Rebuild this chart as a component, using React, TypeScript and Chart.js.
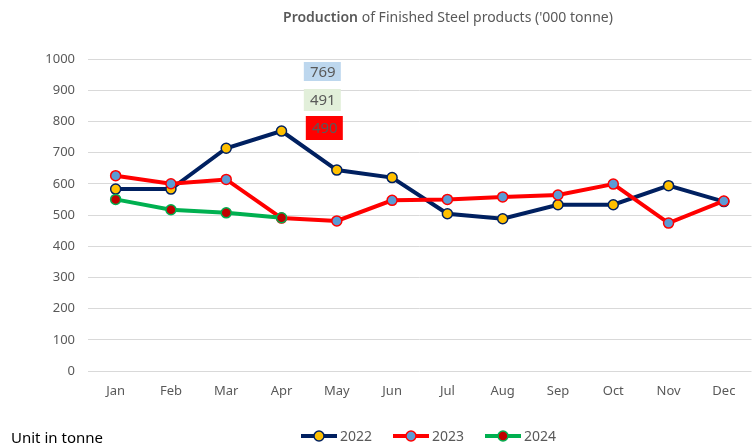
import React, { useEffect, useRef } from "react";
import { Chart, registerables } from "chart.js";

Chart.register(...registerables);

const months = ["Jan", "Feb", "Mar", "Apr", "May", "Jun", "Jul", "Aug", "Sep", "Oct", "Nov", "Dec"];
const data2022 = [583, 583, 714, 769, 644, 620, 504, 488, 533, 533, 594, 543];
const data2023 = [626, 600, 614, 490, 481, 547, 550, 558, 564, 599, 474, 545];
const data2024 = [550, 517, 507, 491];
const seriesNames = ["2022", "2023", "2024"];
const yTicks = [0, 100, 200, 300, 400, 500, 600, 700, 800, 900, 1000];
const titleBold = "Production";
const titleRest = " of Finished Steel products ('000 tonne)";
const unitNote = "Unit in tonne";

const FONT = "'Noto Sans', sans-serif";
const GRAY = "#595959";

const lineColors = ["#002060", "#FF0000", "#00B050"];
const markerFills = ["#FFC000", "#5B9BD5", "#C00000"];

const decorPlugin = {
  id: "decor",
  afterDraw(chart: any) {
    const ctx = chart.ctx;
    const ca = chart.chartArea;
    const xs = chart.scales.x;
    ctx.save();
    // title
    ctx.textBaseline = "middle";
    ctx.font = `600 14px ${FONT}`;
    const w1 = ctx.measureText(titleBold).width;
    ctx.font = `14px ${FONT}`;
    const w2 = ctx.measureText(titleRest).width;
    const tx = 448 - (w1 + w2) / 2;
    ctx.fillStyle = GRAY;
    ctx.textAlign = "left";
    ctx.font = `600 14px ${FONT}`;
    ctx.fillText(titleBold, tx, 18);
    ctx.font = `14px ${FONT}`;
    ctx.fillText(titleRest, tx + w1, 18);

    // annotation boxes (Apr values) placed near May
    const mayX = xs.getPixelForValue(4);
    const boxes = [
      { text: String(data2022[3]), fill: "#BDD7EE", dx: -33, top: ca.top + 3, h: 19 },
      { text: String(data2024[3]), fill: "#E2EFDA", dx: -33, top: ca.top + 30, h: 22 },
      { text: String(data2023[3]), fill: "#FF0000", dx: -31, top: ca.top + 57, h: 24 },
    ];
    ctx.font = `15px ${FONT}`;
    ctx.textAlign = "center";
    for (const b of boxes) {
      ctx.fillStyle = b.fill;
      ctx.fillRect(mayX + b.dx, b.top, 37, b.h);
      ctx.fillStyle = GRAY;
      ctx.fillText(b.text, mayX + b.dx + 19, b.top + b.h / 2 + 1);
    }

    // legend
    const legendX = [301, 393, 485];
    const ly = 436;
    for (let i = 0; i < 3; i++) {
      const x0 = legendX[i];
      ctx.strokeStyle = lineColors[i];
      ctx.lineWidth = 4;
      ctx.beginPath();
      ctx.moveTo(x0, ly);
      ctx.lineTo(x0 + 36, ly);
      ctx.stroke();
      ctx.beginPath();
      ctx.arc(x0 + 18, ly, 5, 0, Math.PI * 2);
      ctx.fillStyle = markerFills[i];
      ctx.fill();
      ctx.lineWidth = 1.5;
      ctx.stroke();
      ctx.fillStyle = GRAY;
      ctx.font = `14px ${FONT}`;
      ctx.textAlign = "left";
      ctx.fillText(seriesNames[i], x0 + 39, ly + 1);
    }

    // unit note
    ctx.fillStyle = "#000000";
    ctx.font = `15px ${FONT}`;
    ctx.textAlign = "left";
    ctx.fillText(unitNote, 11, 439);
    ctx.restore();
  },
};

export default function App() {
  const ref = useRef<HTMLCanvasElement>(null);
  useEffect(() => {
    if (!ref.current) return;
    const mk = (i: number, data: number[], order: number) => ({
      label: seriesNames[i],
      data,
      borderColor: lineColors[i],
      backgroundColor: markerFills[i],
      pointBackgroundColor: markerFills[i],
      pointBorderColor: lineColors[i],
      pointRadius: 5,
      pointBorderWidth: 1.5,
      borderWidth: 4,
      tension: 0,
      order,
    });
    const chart = new Chart(ref.current, {
      type: "line",
      data: {
        labels: months,
        datasets: [mk(0, data2022, 3), mk(1, data2023, 2), mk(2, data2024, 1)],
      },
      options: {
        animation: false,
        responsive: false,
        devicePixelRatio: 1,
        layout: { padding: { top: 59, left: 0, right: 0, bottom: 0 } },
        plugins: { legend: { display: false }, tooltip: { enabled: false }, title: { display: false } },
        scales: {
          x: {
            offset: true,
            grid: { display: false, drawTicks: false },
            border: { display: false },
            ticks: { color: GRAY, font: { family: "'Noto Sans', sans-serif", size: 13 }, padding: 12, maxRotation: 0 },
            afterFit: (s: any) => { s.height = 74; },
          },
          y: {
            min: 0,
            max: 1000,
            afterBuildTicks: (s: any) => { s.ticks = yTicks.map((v) => ({ value: v })); },
            grid: { color: "#D9D9D9", lineWidth: 1, drawTicks: false },
            border: { display: false },
            ticks: {
              color: GRAY,
              font: { family: "'Noto Sans', sans-serif", size: 13 },
              padding: 13,
              callback: (v: any) => String(v),
            },
            afterFit: (s: any) => { s.width = 88; },
          },
        },
      },
      plugins: [decorPlugin],
    });
    return () => chart.destroy();
  }, []);
  return (
    <div style={{ position: "absolute", left: 0, top: 0, width: 752, height: 445, overflow: "hidden", background: "#fff" }}>
      <canvas ref={ref} width={758} height={445} />
    </div>
  );
}
